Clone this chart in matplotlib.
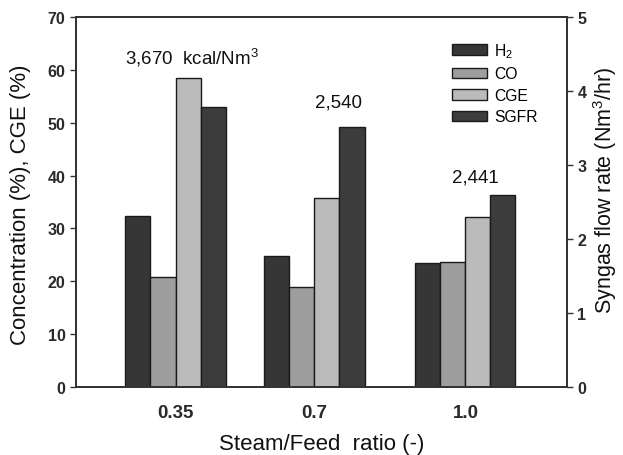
import matplotlib
matplotlib.use("Agg")
import matplotlib.pyplot as plt
from matplotlib.patches import Patch
import numpy as np

plt.rcParams['font.family'] = ['Liberation Sans', 'DejaVu Sans']
plt.rcParams['mathtext.fontset'] = 'custom'
plt.rcParams['mathtext.rm'] = 'Liberation Sans'
plt.rcParams['mathtext.it'] = 'Liberation Sans:italic'

# steam/feed ratio groups
ratios = ["0.35", "0.7", "1.0"]
h2 = [32.3, 24.8, 23.4]        # %
co = [20.8, 18.9, 23.6]        # %
cge = [58.4, 35.7, 32.1]       # %
sgfr = [3.79, 3.51, 2.59]      # Nm3/hr
heating = ["3,670  kcal/Nm$^3$", "2,540", "2,441"]

# layout
centers = np.array([0.0, 1.0, 2.086])
w = 0.18
label_dx = [0.12, 0.176, 0.074]
label_y = [62.4, 53.9, 39.7]

c_h2 = "#363636"
c_co = "#9e9e9e"
c_cge = "#bbbbbb"
c_sgfr = "#3c3c3c"
edge = "#1a1a1a"
ink = "#2a2a2a"

fig = plt.figure(figsize=(6.23, 4.56), dpi=100)
ax = fig.add_axes([76/623, 1 - 388/456, 491/623, 370/456])
ax2 = ax.twinx()

ax.bar(centers - 1.5*w, h2, w, color=c_h2, edgecolor=edge, linewidth=1)
ax.bar(centers - 0.5*w, co, w, color=c_co, edgecolor=edge, linewidth=1)
ax.bar(centers + 0.5*w, cge, w, color=c_cge, edgecolor=edge, linewidth=1)
ax2.bar(centers + 1.5*w, sgfr, w, color=c_sgfr, edgecolor=edge, linewidth=1)

for i in range(len(ratios)):
    ax.text(centers[i] + label_dx[i], label_y[i], heating[i], ha='center',
            va='center', fontsize=13.5, color='#111111')

ax.set_xlim(-0.716, 2.817)
ax.set_ylim(0, 70)
ax2.set_ylim(0, 5)
ax.set_yticks(range(0, 71, 10))
ax2.set_yticks(range(0, 6))
ax.set_xticks(centers)
ax.set_xticklabels(ratios)

for a in (ax, ax2):
    for s in a.spines.values():
        s.set_color("#333333")
        s.set_linewidth(1.3)
    a.tick_params(axis='y', direction='out', length=4, width=1, color="#333333",
                  labelsize=11.5, labelcolor=ink)
    for t in a.get_yticklabels():
        t.set_fontweight('bold')
ax.tick_params(axis='x', length=0, pad=12, labelsize=13.5, labelcolor=ink)
for t in ax.get_xticklabels():
    t.set_fontweight('bold')

ax.set_xlabel("Steam/Feed  ratio (-)", fontsize=16, color='#111111')
ax.xaxis.set_label_coords(0.5, -0.125)
ax.set_ylabel("Concentration (%), CGE (%)", fontsize=16, color='#111111')
ax.yaxis.set_label_coords(-0.092, 0.495)
ax2.set_ylabel("Syngas flow rate (Nm$^3$/hr)", fontsize=15.5, color='#111111')
ax2.yaxis.set_label_coords(1.05, 0.535)

handles = [Patch(facecolor=c_h2, edgecolor=edge),
           Patch(facecolor=c_co, edgecolor=edge),
           Patch(facecolor=c_cge, edgecolor=edge),
           Patch(facecolor=c_sgfr, edgecolor=edge)]
leg = ax2.legend(handles, ["H$_2$", "CO", "CGE", "SGFR"], loc='upper left',
                 bbox_to_anchor=(452/623, 1 - 42/456), bbox_transform=fig.transFigure,
                 frameon=False, fontsize=11.3, handlelength=2.2, handleheight=0.65,
                 handletextpad=0.5, labelspacing=0.42, borderpad=0, borderaxespad=0)

fig.savefig("out.png", dpi=100)
